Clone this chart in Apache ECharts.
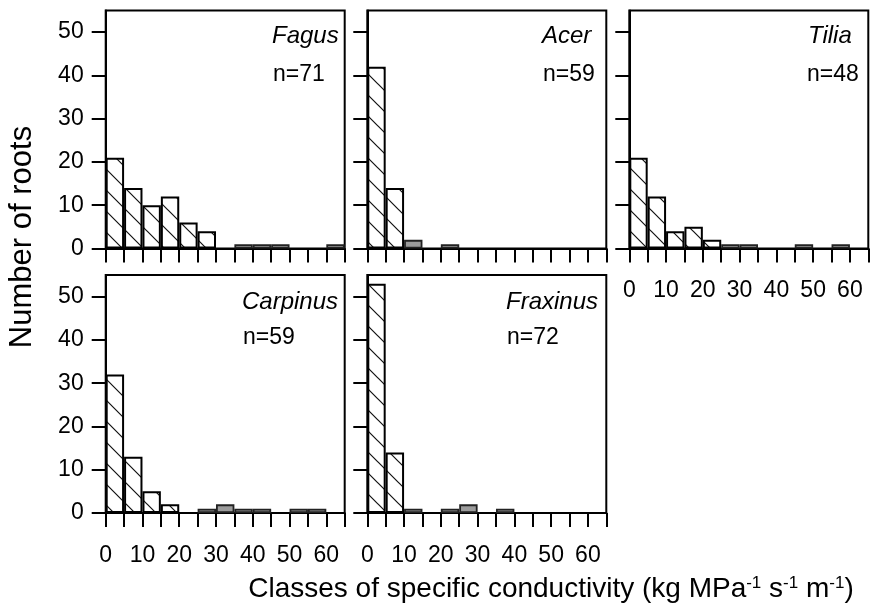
<!DOCTYPE html>
<html>
<head>
<meta charset="utf-8">
<script src="https://cdn.jsdelivr.net/npm/echarts@6/dist/echarts.min.js"></script>
<style>
html,body{margin:0;padding:0;background:#fff;}
#chart{width:870px;height:614px;}
</style>
</head>
<body>
<div id="chart"></div>
<script>
// ---- data ----
const binStarts = [0, 5, 10, 15, 20, 25, 30, 35, 40, 45, 50, 55, 60];
const species = ['Fagus', 'Acer', 'Tilia', 'Carpinus', 'Fraxinus'];
const sampleSizes = ['n=71', 'n=59', 'n=48', 'n=59', 'n=72'];

const fagusHatched    = [21, 14, 10, 12, 6, 4, 0, 0, 0, 0, 0, 0, 0];
const fagusGrey       = [0, 0, 0, 0, 0, 0, 0, 1, 1, 1, 0, 0, 1];
const acerHatched     = [42, 14, 0, 0, 0, 0, 0, 0, 0, 0, 0, 0, 0];
const acerGrey        = [0, 0, 2, 0, 1, 0, 0, 0, 0, 0, 0, 0, 0];
const tiliaHatched    = [21, 12, 4, 5, 2, 0, 0, 0, 0, 0, 0, 0, 0];
const tiliaGrey       = [0, 0, 0, 0, 0, 1, 1, 0, 0, 1, 0, 1, 0];
const carpinusHatched = [32, 13, 5, 2, 0, 0, 0, 0, 0, 0, 0, 0, 0];
const carpinusGrey    = [0, 0, 0, 0, 0, 1, 2, 1, 1, 0, 1, 1, 0];
const fraxinusHatched = [53, 14, 0, 0, 0, 0, 0, 0, 0, 0, 0, 0, 0];
const fraxinusGrey    = [0, 0, 1, 0, 1, 2, 0, 1, 0, 0, 0, 0, 0];

const yTickValues = [0, 10, 20, 30, 40, 50];
const xTickLabels = [0, 10, 20, 30, 40, 50, 60];
const xMax = 65;
const yMax = 55;

const hatchedSets = [fagusHatched, acerHatched, tiliaHatched, carpinusHatched, fraxinusHatched];
const greySets = [fagusGrey, acerGrey, tiliaGrey, carpinusGrey, fraxinusGrey];

// ---- layout ----
const panelLayout = [
  {left: 105.7, top: 10.5, showY: true,  showX: false, nameX: 272, countX: 273, nameY: 36, countY: 75},
  {left: 367.3, top: 10.5, showY: false, showX: false, nameX: 542, countX: 543, nameY: 36, countY: 75},
  {left: 629.3, top: 10.5, showY: false, showX: true,  nameX: 808, countX: 807, nameY: 36, countY: 75},
  {left: 105.7, top: 275,  showY: true,  showX: true,  nameX: 242, countX: 243, nameY: 302, countY: 338},
  {left: 367.3, top: 275,  showY: false, showX: true,  nameX: 506, countX: 507, nameY: 302, countY: 338}
];
const panelW = 239, panelH = 238;
const FONT = '"Liberation Sans", Arial, Helvetica, sans-serif';

// hatch pattern
function makeHatch() {
  const s = 21;
  const c = document.createElement('canvas');
  c.width = s; c.height = s;
  const ctx = c.getContext('2d');
  ctx.fillStyle = '#fff';
  ctx.fillRect(0, 0, s, s);
  ctx.strokeStyle = '#111';
  ctx.lineWidth = 1.2;
  ctx.beginPath();
  ctx.moveTo(-2, -2); ctx.lineTo(s + 2, s + 2);
  ctx.moveTo(-2, s - 2); ctx.lineTo(2, s + 2);
  ctx.moveTo(s - 2, -2); ctx.lineTo(s + 2, 2);
  ctx.stroke();
  return c;
}
const hatch = makeHatch();

const grids = [], xAxes = [], yAxes = [], series = [], graphics = [];
panelLayout.forEach((p, i) => {
  grids.push({left: p.left, top: p.top, width: panelW, height: panelH,
    show: true, borderColor: '#000', borderWidth: 2, backgroundColor: 'transparent', containLabel: false});
  xAxes.push({
    type: 'value', gridIndex: i, min: 0, max: xMax, interval: 5, position: 'bottom',
    axisLine: {show: true, onZero: false, lineStyle: {color: '#000', width: 2}},
    axisTick: {show: true, inside: false, length: 14, lineStyle: {color: '#000', width: 2}},
    axisLabel: {show: p.showX, customValues: xTickLabels, margin: 31, color: '#000', fontSize: 23, fontFamily: FONT},
    splitLine: {show: false}
  });
  xAxes.push({
    type: 'category', gridIndex: i, data: binStarts.map(String), boundaryGap: true, show: false, position: 'bottom'
  });
  yAxes.push({
    type: 'value', gridIndex: i, min: 0, max: yMax,
    axisLine: {show: true, onZero: false, lineStyle: {color: '#000', width: 2}},
    axisTick: {show: true, inside: false, length: 14, customValues: yTickValues, lineStyle: {color: '#000', width: 2}},
    axisLabel: {show: p.showY, customValues: yTickValues, margin: 22, color: '#000', fontSize: 23, fontFamily: FONT},
    splitLine: {show: false}
  });
  series.push({
    type: 'bar', xAxisIndex: i * 2 + 1, yAxisIndex: i, barWidth: '100%', barGap: '-100%',
    data: hatchedSets[i].map(v => v > 0 ? v : null),
    itemStyle: {color: {image: hatch, repeat: 'repeat'}, borderColor: '#000', borderWidth: 2},
    silent: true, animation: false
  });
  series.push({
    type: 'bar', xAxisIndex: i * 2 + 1, yAxisIndex: i, barWidth: '100%', barGap: '-100%',
    data: greySets[i].map(v => v > 0 ? v : null),
    itemStyle: {color: '#9c9c9c', borderColor: '#222', borderWidth: 1.8},
    silent: true, animation: false
  });
  graphics.push({
    type: 'text', x: p.nameX, y: p.nameY, silent: true,
    style: {text: species[i], font: 'italic 24px ' + FONT, fill: '#000',
      textAlign: 'left', textVerticalAlign: 'middle', align: 'left', verticalAlign: 'middle'}
  });
  graphics.push({
    type: 'text', x: p.countX, y: p.countY, silent: true,
    style: {text: sampleSizes[i], font: '23px ' + FONT, fill: '#000',
      textAlign: 'left', textVerticalAlign: 'middle', align: 'left', verticalAlign: 'middle'}
  });
});

graphics.push({
  type: 'text', x: 22, y: 237, rotation: Math.PI / 2, silent: true,
  style: {text: 'Number of roots', font: '31px ' + FONT, fill: '#000',
    textAlign: 'center', textVerticalAlign: 'middle', align: 'center', verticalAlign: 'middle'}
});
graphics.push({
  type: 'text', x: 551, y: 589, silent: true,
  style: {
    text: 'Classes of specific conductivity (kg MPa{sup|-1} s{sup|-1} m{sup|-1})',
    font: '28px ' + FONT, fill: '#000',
    textAlign: 'center', textVerticalAlign: 'middle', align: 'center', verticalAlign: 'middle',
    rich: {sup: {fontSize: 17, fontFamily: FONT, fill: '#000', verticalAlign: 'top', padding: [0, 0, 10, 0]}}
  }
});

const chart = echarts.init(document.getElementById('chart'), null, {renderer: 'canvas'});
chart.setOption({
  animation: false,
  backgroundColor: '#fff',
  grid: grids,
  xAxis: xAxes,
  yAxis: yAxes,
  series: series,
  graphic: {elements: graphics}
});
</script>
</body>
</html>
